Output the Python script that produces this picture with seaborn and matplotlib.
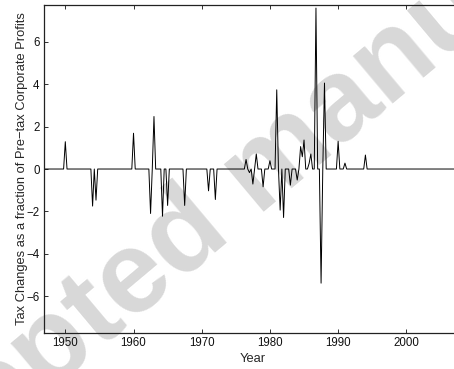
import numpy as np
import pandas as pd
import matplotlib
matplotlib.use("Agg")
import matplotlib.pyplot as plt
import seaborn as sns

# ---- data ----
start_year = 1947.0
end_year = 2007.75
event_dates = [1950.0, 1954.0, 1954.5, 1960.0, 1962.5, 1963.0, 1964.25, 1965.0,
               1967.5, 1971.0, 1972.0, 1976.5, 1977.0, 1977.5, 1978.0, 1979.0,
               1980.0, 1981.0, 1981.5, 1982.0, 1983.0, 1984.0, 1984.5, 1984.75,
               1985.0, 1985.75, 1986.0, 1986.75, 1987.5, 1988.0, 1990.0, 1991.0,
               1994.0]
event_values = [1.29, -1.75, -1.47, 1.69, -2.10, 2.48, -2.23, -1.72,
                -1.72, -1.03, -1.44, 0.45, -0.17, -0.71, 0.71, -0.84,
                0.39, 3.74, -1.94, -2.29, -0.76, -0.52, 1.06, 0.58,
                1.37, 0.27, 0.71, 7.60, -5.39, 4.06, 1.31, 0.28,
                0.66]
x_ticks = [1950, 1960, 1970, 1980, 1990, 2000]
y_ticks = [-6, -4, -2, 0, 2, 4, 6]
x_label = "Year"
y_label = "Tax Changes as a fraction of Pre\u2212tax Corporate Profits"
watermark = "Accepted manuscript"

# quarterly series: zero except in quarters with a tax change
n_q = int(round((end_year - start_year) * 4)) + 1
quarters = [start_year + i / 4 for i in range(n_q)]
lookup = {round(d * 4): v for d, v in zip(event_dates, event_values)}
series = [lookup.get(round(q * 4), 0.0) for q in quarters]
df = pd.DataFrame({"Year": quarters, "Change": series})

# ---- style ----
sns.set_style("ticks")
plt.rcParams["font.family"] = ["Liberation Sans", "DejaVu Sans"]

W, H = 454, 369
fig = plt.figure(figsize=(W / 100, H / 100), dpi=100)
fig.patch.set_facecolor("white")

# watermark behind the axes
fig.text(266 / W, 1 - 170 / H, watermark, fontsize=84, fontweight="bold",
         color="#d8d8d8", rotation=40, ha="center", va="center",
         rotation_mode="anchor", zorder=0)

left, right_px = 44.3, 460.9
bottom_px, top_px = 332.7, 4.7
ax = fig.add_axes([left / W, 1 - bottom_px / H,
                   (right_px - left) / W, (bottom_px - top_px) / H])
ax.set_zorder(1)
ax.patch.set_alpha(0)

sns.lineplot(data=df, x="Year", y="Change", ax=ax, color="black",
             linewidth=0.7, estimator=None)

ax.set_xlim(1946.92, 2008.0)
ax.set_ylim(-7.73, 7.76)
ax.set_xticks(x_ticks)
ax.set_yticks(y_ticks)
ax.set_yticklabels([str(t).replace("-", "\u2212") for t in y_ticks])
ax.set_xlabel(x_label, fontsize=9.3, labelpad=2.5)
ax.set_ylabel(y_label, fontsize=9.3, labelpad=-1)
ax.tick_params(direction="in", length=2.8, width=0.6, labelsize=8.3,
               top=True, right=True, pad=3.3, colors="#111111")
for s in ax.spines.values():
    s.set_visible(True)
    s.set_linewidth(0.9)
    s.set_color("#222222")

fig.savefig("out.png", dpi=100, facecolor="white")
